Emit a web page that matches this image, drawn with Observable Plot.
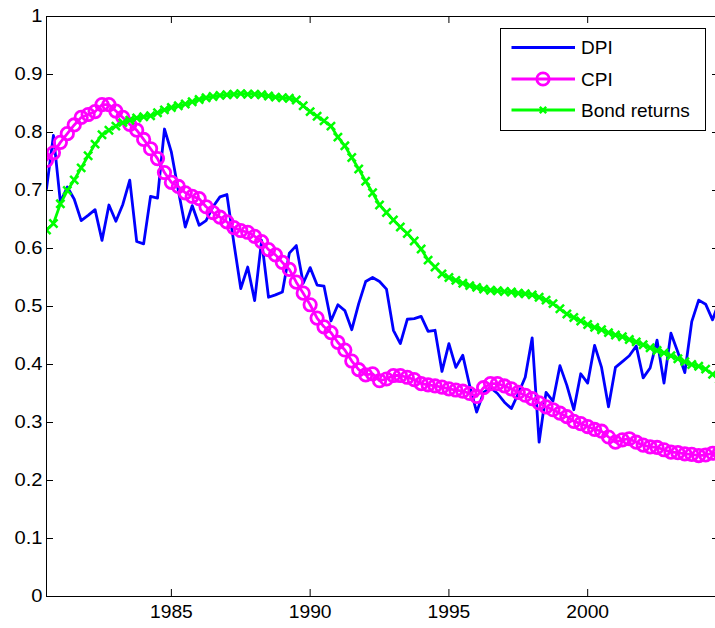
<!DOCTYPE html>
<html><head><meta charset="utf-8">
<script src="https://cdn.jsdelivr.net/npm/d3@7"></script>
<script src="https://cdn.jsdelivr.net/npm/@observablehq/plot@0.6"></script>
<style>
html,body{margin:0;padding:0;background:#fff;overflow:hidden;}
#wrap{position:relative;width:715px;height:628px;overflow:hidden;}
#legend{position:absolute;left:0;top:0;}
</style></head>
<body><div id="wrap"></div>
<script>
// Quarterly observations, 1980Q3 .. 2004Q4
const startYear = 1980.5;
const quarterStep = 0.25;

const dpi = [0.703,0.795,0.68,0.706,0.685,0.648,0.657,0.667,0.614,0.675,
 0.647,0.676,0.718,0.612,0.608,0.69,0.687,0.806,0.766,0.70,
 0.637,0.674,0.64,0.648,0.672,0.689,0.693,0.61,0.531,0.568,
 0.51,0.614,0.516,0.52,0.525,0.592,0.605,0.54,0.567,0.537,
 0.535,0.475,0.503,0.493,0.46,0.505,0.543,0.55,0.543,0.53,
 0.459,0.436,0.478,0.479,0.483,0.457,0.459,0.388,0.436,0.395,
 0.416,0.363,0.318,0.352,0.36,0.35,0.335,0.324,0.35,0.378,
 0.446,0.266,0.352,0.337,0.398,0.364,0.322,0.384,0.368,0.433,
 0.395,0.327,0.395,0.405,0.415,0.432,0.377,0.394,0.442,0.368,
 0.454,0.421,0.386,0.474,0.511,0.504,0.477,0.51];

const cpi = [0.752,0.765,0.783,0.798,0.813,0.826,0.831,0.836,0.848,0.848,
 0.837,0.826,0.814,0.804,0.788,0.772,0.755,0.731,0.714,0.707,
 0.696,0.69,0.686,0.672,0.662,0.654,0.646,0.636,0.631,0.628,
 0.621,0.612,0.598,0.589,0.576,0.564,0.542,0.523,0.503,0.48,
 0.465,0.455,0.438,0.425,0.406,0.391,0.382,0.384,0.372,0.375,
 0.381,0.381,0.378,0.374,0.367,0.365,0.363,0.361,0.358,0.356,
 0.354,0.35,0.345,0.36,0.367,0.367,0.363,0.358,0.352,0.347,
 0.341,0.334,0.327,0.322,0.316,0.31,0.302,0.298,0.293,0.288,
 0.285,0.275,0.266,0.27,0.272,0.266,0.261,0.258,0.257,0.253,
 0.249,0.248,0.246,0.245,0.243,0.244,0.247,0.248];

const bond = [0.632,0.643,0.677,0.70,0.718,0.739,0.76,0.78,0.796,0.804,
 0.811,0.817,0.821,0.825,0.827,0.829,0.834,0.839,0.843,0.846,
 0.849,0.853,0.857,0.86,0.862,0.864,0.865,0.866,0.867,0.866,
 0.866,0.865,0.863,0.861,0.86,0.859,0.856,0.846,0.836,0.828,
 0.82,0.811,0.792,0.777,0.757,0.737,0.716,0.696,0.675,0.662,
 0.649,0.637,0.626,0.613,0.599,0.58,0.568,0.556,0.55,0.545,
 0.54,0.536,0.533,0.53,0.528,0.527,0.526,0.525,0.523,0.522,
 0.52,0.516,0.511,0.505,0.496,0.487,0.481,0.475,0.469,0.464,
 0.46,0.455,0.451,0.448,0.443,0.439,0.434,0.429,0.424,0.42,
 0.415,0.41,0.405,0.40,0.397,0.392,0.383,0.375];

const seriesNames = ["DPI", "CPI", "Bond returns"];
const seriesColors = ["#0000ff", "#ff00ff", "#00ff00"];
const xTicks = [1985, 1990, 1995, 2000];
const yTicks = [0, 0.1, 0.2, 0.3, 0.4, 0.5, 0.6, 0.7, 0.8, 0.9, 1];

const toRows = (arr) => arr.map((v, i) => ({date: startYear + i * quarterStep, value: v}));
const dpiRows = toRows(dpi), cpiRows = toRows(cpi), bondRows = toRows(bond);

const FONT = "'Liberation Sans', Arial, Helvetica, sans-serif";
const LW = 2.8;

const chart = Plot.plot({
  width: 715, height: 628,
  marginLeft: 46, marginRight: -4, marginTop: 16, marginBottom: 32,
  x: {domain: [startYear, startYear + (dpi.length - 1) * quarterStep]},
  y: {domain: [0, 1]},
  style: {fontFamily: FONT, fontSize: "17.5px", color: "#000", background: "#fff", overflow: "hidden"},
  marks: [
    Plot.line(dpiRows, {x: "date", y: "value", stroke: seriesColors[0], strokeWidth: LW, clip: true}),
    Plot.line(cpiRows, {x: "date", y: "value", stroke: seriesColors[1], strokeWidth: LW, clip: true}),
    Plot.dot(cpiRows, {x: "date", y: "value", r: 6.2, stroke: seriesColors[1], strokeWidth: LW, fill: "none", clip: true}),
    Plot.line(bondRows, {x: "date", y: "value", stroke: seriesColors[2], strokeWidth: LW, clip: true}),
    Plot.dot(bondRows, {x: "date", y: "value", symbol: "times", r: 3.8, stroke: seriesColors[2], strokeWidth: 2.5, clip: true}),
    Plot.frame({stroke: "#000", strokeWidth: 1}),
    // inward tick marks on all four sides
    Plot.tickY(yTicks, {y: d => d, stroke: "#000", insetRight: 666}),
    Plot.tickY(yTicks, {y: d => d, stroke: "#000", insetLeft: 666}),
    Plot.tickX(xTicks, {x: d => d, stroke: "#000", insetTop: 573}),
    Plot.tickX(xTicks, {x: d => d, stroke: "#000", insetBottom: 573}),
    Plot.axisX({ticks: xTicks, tickSize: 0, tickPadding: 9, tickFormat: d => String(d), label: null}),
    Plot.axisY({ticks: yTicks, tickSize: 0, tickPadding: 4, tickFormat: d => String(d), label: null})
  ]
});
document.getElementById("wrap").appendChild(chart);

// the reference renders its tick labels slightly wide: stretch each label about its own anchor
function widen(sel, s) {
  sel.each(function() {
    const t = this.getAttribute("transform");
    if (t) {
      this.setAttribute("transform", t + ` scale(${s},1)`);
    } else {
      const x = +(this.getAttribute("x") || 0);
      this.setAttribute("transform", `translate(${x},0) scale(${s},1) translate(${-x},0)`);
    }
  });
}
widen(d3.select(chart).selectAll("g[aria-label='y-axis tick label'] text"), 1.15);
widen(d3.select(chart).selectAll("g[aria-label='x-axis tick label'] text"), 1.1);

// legend box (upper right, inside axes)
const lg = d3.select("#wrap").append("svg").attr("id", "legend")
  .attr("width", 715).attr("height", 628)
  .style("font-family", FONT);
const box = {x: 500, y: 28, w: 205, h: 102};
lg.append("rect").attr("x", box.x + 0.5).attr("y", box.y + 0.5).attr("width", box.w).attr("height", box.h)
  .attr("fill", "#fff").attr("stroke", "#000").attr("stroke-width", 1);
const rowY = [47.5, 79, 110];
seriesNames.forEach((name, k) => {
  const g = lg.append("g");
  g.append("line").attr("x1", 511.5).attr("x2", 575).attr("y1", rowY[k]).attr("y2", rowY[k])
    .attr("stroke", seriesColors[k]).attr("stroke-width", LW);
  if (k === 1) {
    g.append("circle").attr("cx", 543).attr("cy", rowY[k]).attr("r", 6.2)
      .attr("fill", "none").attr("stroke", seriesColors[k]).attr("stroke-width", LW);
  }
  if (k === 2) {
    const s = 3.2;
    g.append("path").attr("d", `M${543 - s},${rowY[k] - s}L${543 + s},${rowY[k] + s}M${543 - s},${rowY[k] + s}L${543 + s},${rowY[k] - s}`)
      .attr("stroke", seriesColors[k]).attr("stroke-width", 2.4);
  }
  g.append("text").attr("x", 581).attr("y", rowY[k]).attr("dy", "0.36em")
    .attr("font-size", 19).attr("fill", "#000").text(name);
});
</script>
</body></html>
